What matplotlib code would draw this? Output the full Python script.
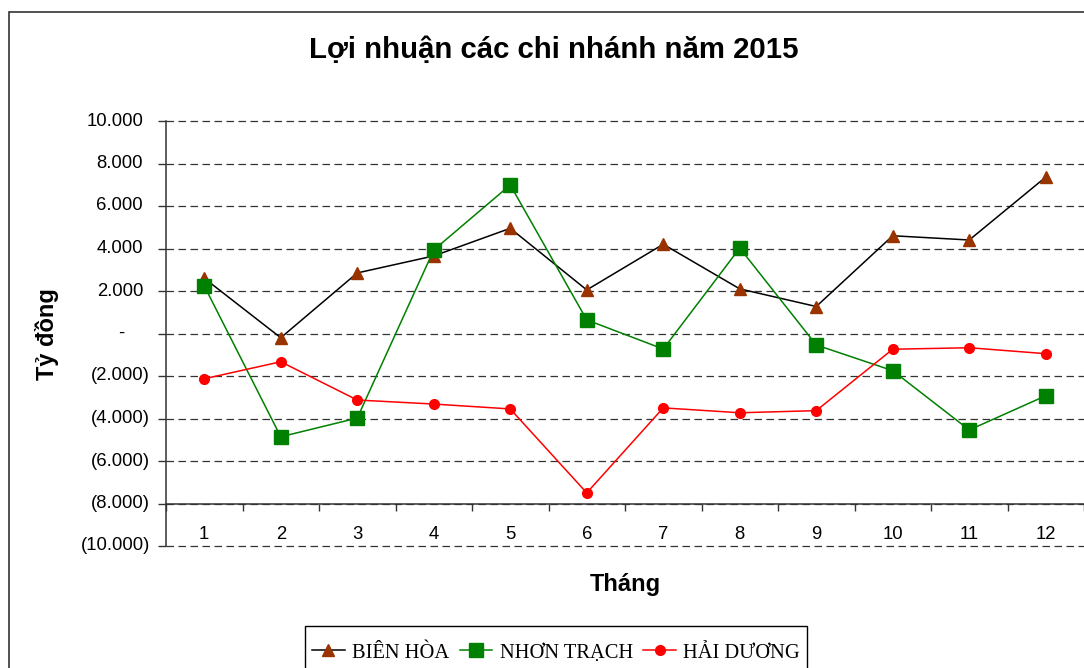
import numpy as np
import matplotlib
matplotlib.use("Agg")
import matplotlib.pyplot as plt
import matplotlib.transforms as mtransforms
from matplotlib.patches import Rectangle

plt.rcParams['font.family'] = ['Liberation Sans', 'DejaVu Sans']

# số liệu
months = ['1', '2', '3', '4', '5', '6', '7', '8', '9', '10', '11', '12']
bien_hoa = [2600, -200, 2850, 3650, 4950, 2050, 4200, 2100, 1270, 4600, 4400, 7360]
nhon_trach = [2240, -4860, -3980, 3930, 6990, 640, -730, 4020, -540, -1750, -4540, -2930]
hai_duong = [-2130, -1330, -3130, -3320, -3550, -7500, -3500, -3730, -3630, -740, -670, -950]
yticks = list(range(-10000, 10001, 2000))


def fmt(v):
    if v == 0:
        return '-'
    s = f'{abs(int(v)):,}'.replace(',', '.')
    return f'({s})' if v < 0 else s


fig = plt.figure(figsize=(10.84, 6.68), dpi=100)
ax = fig.add_axes([166 / 1084, 1 - 546 / 668, 1 - 166 / 1084, (546 - 121) / 668])

x = np.arange(len(months))
ax.plot(x, bien_hoa, color='black', lw=1.1, marker='^', ms=8,
        mfc='#993300', mec='#993300', label='BIÊN HÒA', zorder=3)
ax.plot(x, nhon_trach, color='#008000', lw=1.1, marker='s', ms=10,
        mfc='#008000', mec='#008000', label='NHƠN TRẠCH', zorder=3)
ax.plot(x, hai_duong, color='#ff0000', lw=1.1, marker='o', ms=7,
        mfc='#ff0000', mec='#ff0000', label='HẢI DƯƠNG', zorder=3)

ax.set_xlim(-0.5, len(months) - 0.5)
ax.set_ylim(-10000, 10000)
ax.set_yticks(yticks)
ax.set_yticklabels([])
ax.tick_params(axis='y', length=6, width=1, color='#333333')

# nhãn trục tung kiểu Accounting của Excel
blend = mtransforms.blended_transform_factory(ax.transAxes, ax.transData)
for v in yticks:
    if v == 0:
        tr = mtransforms.offset_copy(blend, fig, x=-45, units='dots')
        ha = 'center'
    elif v > 0:
        tr = mtransforms.offset_copy(blend, fig, x=-23, units='dots')
        ha = 'right'
    else:
        tr = mtransforms.offset_copy(blend, fig, x=-16, units='dots')
        ha = 'right'
    ax.text(0, v, fmt(v), transform=tr, ha=ha, va='center', fontsize=13.3)

for v in yticks:
    ax.axhline(v, color='#333333', lw=0.9, ls=(0, (6, 3.6)), zorder=1, clip_on=False)

# trục ngang nằm ở -8.000 như Excel
ax.spines['bottom'].set_position(('data', -8000))
ax.spines['bottom'].set_color('#333333')
ax.spines['bottom'].set_linewidth(1.1)
ax.spines['left'].set_color('#333333')
ax.spines['left'].set_linewidth(1.1)
ax.spines['top'].set_visible(False)
ax.spines['right'].set_visible(False)
ax.set_xticks(x)
ax.set_xticklabels(months)
ax.set_xticks(np.arange(-0.5, len(months)), minor=True)
ax.tick_params(axis='x', which='major', length=0, labelsize=13.3, pad=16)
ax.tick_params(axis='x', which='minor', length=5, width=1, color='#333333')

fig.text(625 / 1084, 1 - 585 / 668, 'Tháng', ha='center', va='center',
         fontsize=17, fontweight='bold')
fig.text(47 / 1084, 1 - 334 / 668, 'Tỷ đồng', ha='center', va='center',
         rotation=90, fontsize=17, fontweight='bold')

fig.text(554 / 1084, 1 - 50 / 668, 'Lợi nhuận các chi nhánh năm 2015',
         ha='center', va='center', fontsize=21.2, fontweight='bold')

fig.patches.append(Rectangle((9 / 1084, -0.1), 2, 1 - 12 / 668 + 0.1,
                             transform=fig.transFigure, fill=False,
                             ec='#333333', lw=1.2))

leg = fig.legend(loc='upper center', bbox_to_anchor=(556 / 1084, 1 - 636 / 668),
                 ncol=3, frameon=False, borderpad=0.35,
                 borderaxespad=0, handlelength=1.6, handletextpad=0.35,
                 columnspacing=0.5,
                 prop={'family': 'Liberation Serif', 'size': 14.8})

# khung chú thích: bắt đầu ở y=626 và bị cắt ở mép dưới như hình gốc
fig.canvas.draw()
bb = leg.get_window_extent()
top = 668 - 626
fig.patches.append(Rectangle((bb.x0, -20), bb.width, top + 20,
                             transform=None, fill=False, ec='black', lw=1))

fig.savefig('out.png', dpi=100)
